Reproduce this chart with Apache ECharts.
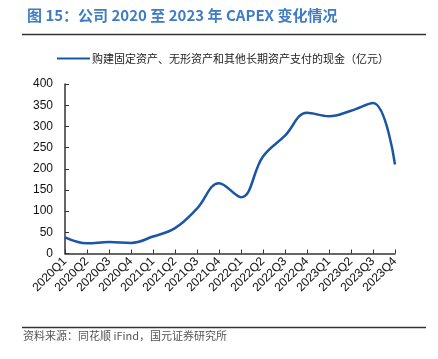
<!DOCTYPE html>
<html><head><meta charset="utf-8">
<script src="https://cdn.jsdelivr.net/npm/echarts@6/dist/echarts.min.js"></script>
<style>html,body{margin:0;padding:0;background:#fff}#c{width:438px;height:359px}</style>
</head><body><div id="c"></div>
<script>
const categories = ['2020Q1','2020Q2','2020Q3','2020Q4','2021Q1','2021Q2','2021Q3','2021Q4','2022Q1','2022Q2','2022Q3','2022Q4','2023Q1','2023Q2','2023Q3','2023Q4'];
const capexValues = [38, 24, 27, 25, 40, 60, 106, 166, 133, 229, 278, 332, 324, 337, 355, 210];
const yTicks = [0, 50, 100, 150, 200, 250, 300, 350, 400];
const seriesName = '购建固定资产、无形资产和其他长期资产支付的现金（亿元）';
const titleText = '图 15：公司 2020 至 2023 年 CAPEX 变化情况';
const sourceText = '资料来源：同花顺 iFind，国元证券研究所';

const chart = echarts.init(document.getElementById('c'), null, {renderer: 'canvas'});
chart.setOption({
  animation: false,
  backgroundColor: '#fff',
  title: {
    text: titleText, left: 22, top: 3,
    textStyle: {color: '#3f7cc4', fontSize: 15, fontWeight: 'bold', fontFamily: 'Noto Sans CJK SC'}
  },
  legend: {
    left: 52, top: 48, itemWidth: 33, itemHeight: 10, itemGap: 4,
    icon: 'path://M0,4 L33,4 L33,6 L0,6 Z',
    textStyle: {fontSize: 11, color: '#222', fontFamily: 'Noto Sans CJK SC', padding: [0,0,0,-3]},
    data: [seriesName]
  },
  grid: {left: 65, right: 43, top: 84, bottom: 105.5, containLabel: false},
  xAxis: {
    type: 'category', data: categories, boundaryGap: false,
    axisLine: {lineStyle: {color: '#333', width: 1.5}},
    axisTick: {inside: true, length: 4, lineStyle: {color: '#333'}},
    axisLabel: {rotate: 45, fontSize: 12, color: '#111', fontFamily: 'Liberation Sans', margin: 6, interval: 0}
  },
  yAxis: {
    type: 'value', min: yTicks[0], max: yTicks[yTicks.length-1], interval: 50,
    splitLine: {show: false},
    axisLine: {show: true, lineStyle: {color: '#333', width: 1.5}},
    axisTick: {show: true, inside: true, length: 4, lineStyle: {color: '#333'}},
    axisLabel: {fontSize: 12, color: '#111', fontFamily: 'Liberation Sans', margin: 12}
  },
  series: [{
    name: seriesName, type: 'line', data: capexValues, smooth: 0.4,
    symbol: 'none', lineStyle: {color: '#1a56a6', width: 2.5},
    itemStyle: {color: '#1a56a6'}
  }],
  graphic: [
    {type: 'line', shape: {x1: 22, y1: 34.5, x2: 426, y2: 34.5}, style: {stroke: '#333', lineWidth: 1.5}},
    {type: 'line', shape: {x1: 22, y1: 327.5, x2: 426, y2: 327.5}, style: {stroke: '#333', lineWidth: 1.5}},
    {type: 'text', left: 23, top: 330, style: {text: sourceText, fill: '#555', font: '11px "Noto Sans CJK SC"'}}
  ]
});
</script></body></html>
